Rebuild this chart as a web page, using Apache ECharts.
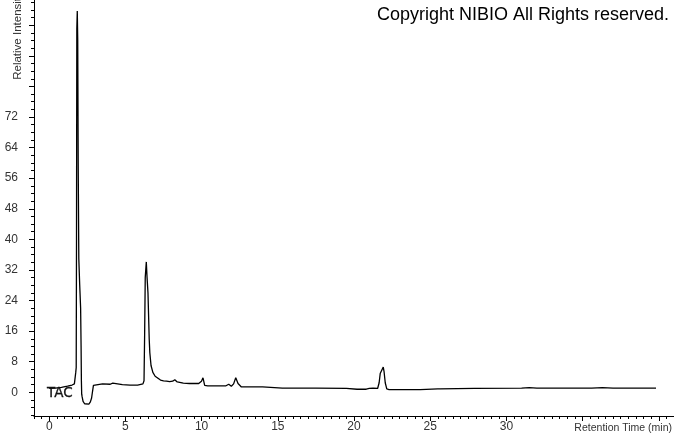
<!DOCTYPE html>
<html>
<head>
<meta charset="utf-8">
<script src="https://cdn.jsdelivr.net/npm/echarts@6/dist/echarts.min.js"></script>
<style>
html,body{margin:0;padding:0;background:#fff;}
#chart{width:674px;height:434px;}
</style>
</head>
<body>
<div id="chart"></div>
<script>
// Retention time (min)
const times = [
  0.0, 0.4, 0.8, 1.2, 1.5, 1.65, 1.69, 1.74, 1.77, 1.79, 1.81, 1.84, 1.87, 1.90, 1.94, 2.00, 2.06, 2.09, 2.11, 2.13,
  2.16, 2.22, 2.32, 2.45, 2.60, 2.70, 2.78, 2.84, 2.90, 2.98,
  3.5, 4.0, 4.12, 4.17, 4.22, 4.8, 5.3, 5.8, 6.15, 6.22, 6.26, 6.30, 6.37, 6.42, 6.48, 6.52, 6.56, 6.60, 6.68, 6.80,
  6.95, 7.06, 7.30, 7.50, 7.70, 7.80, 7.90, 8.10, 8.24, 8.40, 8.80, 9.20, 9.60, 9.81, 9.99, 10.09, 10.20, 10.40, 11.00, 11.60,
  11.78, 11.95, 12.10, 12.24, 12.39, 12.61, 13.10, 13.20, 13.30, 14.00, 14.05, 14.10, 15.30, 17.50, 17.55, 19.50, 20.20, 20.80, 21.00, 21.25,
  21.35, 21.55, 21.65, 21.72, 21.82, 21.92, 21.97, 22.05, 22.15, 22.30, 24.20, 24.25, 24.35, 25.50, 25.56, 25.65, 27.90, 28.00, 31.00, 31.50,
  32.00, 35.60, 36.30, 37.00, 39.82
];
// Relative intensity
const values = [
  1.0, 1.1, 1.3, 1.6, 1.9, 2.2, 2.6, 5.2, 6.5, 40, 95, 99.7, 92, 60, 35, 28, 22, 12, 3, -0.5,
  -1.2, -2.4, -3.0, -3.2, -3.1, -2.5, -1.5, 0.2, 1.8, 2.3,
  2.2, 2.1, 2.1, 2.4, 2.1, 2.0, 1.9, 1.9, 2.2, 3.0, 15, 30, 34.1, 30, 26, 20, 14, 10.4, 7.0, 5.2,
  4.2, 3.7, 3.2, 3.0, 2.9, 3.1, 2.8, 2.9, 3.3, 2.7, 2.4, 2.3, 2.3, 2.3, 2.9, 3.8, 1.8, 1.7, 1.7, 1.7,
  2.1, 1.6, 2.2, 3.8, 2.3, 1.4, 1.4, 1.7, 1.4, 1.4, 1.6, 1.3, 1.1, 1.1, 1.3, 1.0, 0.8, 0.8, 1.0, 1.1,
  1.3, 1.0, 2.5, 4.9, 5.3, 6.6, 5.5, 2.5, 0.9, 0.7, 0.7, 0.9, 0.7, 0.9, 1.1, 0.9, 1.0, 1.1, 1.1, 1.2,
  1.1, 1.1, 1.2, 1.1, 1.1
];
const xMajorTicks = [0, 5, 10, 15, 20, 25, 30, 35, 40];
const xTickLabels = [0, 5, 10, 15, 20, 25, 30];
const yMajorTicks = [0, 8, 16, 24, 32, 40, 48, 56, 64, 72, 80, 88, 96];
const yTickLabels = [0, 8, 16, 24, 32, 40, 48, 56, 64, 72];
const xName = 'Retention Time (min)';
const yName = 'Relative Intensity';
const traceName = 'TAC';
const copyright = 'Copyright NIBIO All Rights reserved.';

const X_MIN = -1, X_MAX = 41, Y_MIN = -6.2, Y_MAX = 102.6;

const xMinor = [];
for (let v = -1; v <= 41.001; v += 0.5) {
  const r = Math.round(v * 10) / 10;
  if (r % 5 !== 0) xMinor.push(r);
}
const yMinor = [];
for (let v = -6; v <= 102; v += 2) {
  if (v % 8 !== 0) yMinor.push(v);
}

const data = times.map((t, i) => [t, values[i]]);
const labelFont = {fontFamily: 'Liberation Sans, Arial, sans-serif', fontSize: 12, color: '#333'};

const chart = echarts.init(document.getElementById('chart'), null, {renderer: 'canvas'});
chart.setOption({
  animation: false,
  backgroundColor: '#fff',
  grid: {left: 34, right: 0, top: 0, bottom: 18, containLabel: false},
  xAxis: [
    {
      type: 'value', min: X_MIN, max: X_MAX, position: 'bottom',
      axisLine: {show: true, onZero: false, lineStyle: {color: '#000', width: 1}},
      axisTick: {show: true, customValues: xMajorTicks, length: 5, lineStyle: {color: '#000'}},
      axisLabel: Object.assign({show: true, customValues: xTickLabels, margin: 5}, labelFont),
      splitLine: {show: false}
    },
    {
      type: 'value', min: X_MIN, max: X_MAX, position: 'bottom',
      axisLine: {show: false, onZero: false},
      axisTick: {show: true, customValues: xMinor, length: 3, lineStyle: {color: '#000'}},
      axisLabel: {show: false},
      splitLine: {show: false}
    }
  ],
  yAxis: [
    {
      type: 'value', min: Y_MIN, max: Y_MAX, position: 'left',
      axisLine: {show: true, onZero: false, lineStyle: {color: '#000', width: 1}},
      axisTick: {show: true, customValues: yMajorTicks, length: 5, lineStyle: {color: '#000'}},
      axisLabel: Object.assign({show: true, customValues: yTickLabels, margin: 16}, labelFont),
      splitLine: {show: false}
    },
    {
      type: 'value', min: Y_MIN, max: Y_MAX, position: 'left',
      axisLine: {show: false, onZero: false},
      axisTick: {show: true, customValues: yMinor, length: 3, lineStyle: {color: '#000'}},
      axisLabel: {show: false},
      splitLine: {show: false}
    }
  ],
  series: [{
    type: 'line', xAxisIndex: 0, yAxisIndex: 0,
    data: data, showSymbol: false, symbol: 'none',
    lineStyle: {color: '#000', width: 1.3},
    z: 3
  }],
  graphic: [
    {type: 'text', left: 377, top: 6, style: {text: copyright, fontFamily: 'Liberation Sans, Arial, sans-serif', fontSize: 18, fill: '#000'}},
    {type: 'text', x: 18, y: 36, rotation: Math.PI / 2, style: {text: yName, fontFamily: 'Liberation Sans, Arial, sans-serif', fontSize: 11.5, fill: '#333', align: 'center', verticalAlign: 'middle'}},
    {type: 'text', x: 672, y: 428, style: {text: xName, fontFamily: 'Liberation Sans, Arial, sans-serif', fontSize: 10.5, fill: '#333', align: 'right', verticalAlign: 'middle'}},
    {type: 'text', x: 47, y: 393, z: 10, style: {text: traceName, fontFamily: 'DejaVu Sans, sans-serif', fontSize: 13.5, fill: '#111', stroke: '#111', lineWidth: 0.3, align: 'left', verticalAlign: 'middle'}}
  ]
});
</script>
</body>
</html>
